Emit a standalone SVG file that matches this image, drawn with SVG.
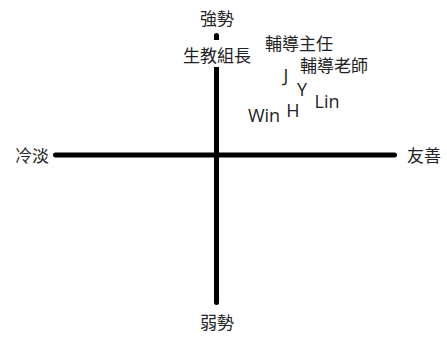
<svg xmlns="http://www.w3.org/2000/svg" width="447" height="338" viewBox="0 0 447 338">
<style>
.axis{stroke:#000;stroke-width:5;stroke-linecap:round;fill:none}
.cjk{font-family:"Noto Sans CJK TC","Noto Sans CJK SC",sans-serif;font-size:17px;fill:#222}
.lat{font-family:"Open Sans","Noto Sans",sans-serif;font-size:18px;fill:#222}
</style>
<rect width="447" height="338" fill="#fff"/>
<g id="connectors">
<line class="axis" x1="55.5" y1="155" x2="394.5" y2="155"/>
<line class="axis" x1="216.5" y1="35.5" x2="216.5" y2="302.5"/>
</g>
<g id="strong"><text class="cjk" x="217" y="25" text-anchor="middle" font-size="16">強勢</text></g>
<g id="weak"><text class="cjk" x="217" y="329" text-anchor="middle" font-size="16">弱勢</text></g>
<g id="cold"><text class="cjk" x="32" y="162" text-anchor="middle">冷淡</text></g>
<g id="friendly"><text class="cjk" x="424" y="162" text-anchor="middle">友善</text></g>
<g id="discipline"><rect x="180" y="40" width="74" height="27" fill="#fff"/><text class="cjk" x="217" y="62" text-anchor="middle">生教組長</text></g>
<g id="director"><text class="cjk" x="299" y="50" text-anchor="middle">輔導主任</text></g>
<g id="teacher"><text class="cjk" x="334" y="72" text-anchor="middle">輔導老師</text></g>
<g id="J"><text class="lat" x="286" y="82" text-anchor="middle">J</text></g>
<g id="Y"><text class="lat" x="302" y="96" text-anchor="middle">Y</text></g>
<g id="Lin"><text class="lat" x="327" y="108" text-anchor="middle">Lin</text></g>
<g id="H"><text class="lat" x="293" y="117" text-anchor="middle">H</text></g>
<g id="Win"><text class="lat" x="264" y="122" text-anchor="middle">Win</text></g>
</svg>
